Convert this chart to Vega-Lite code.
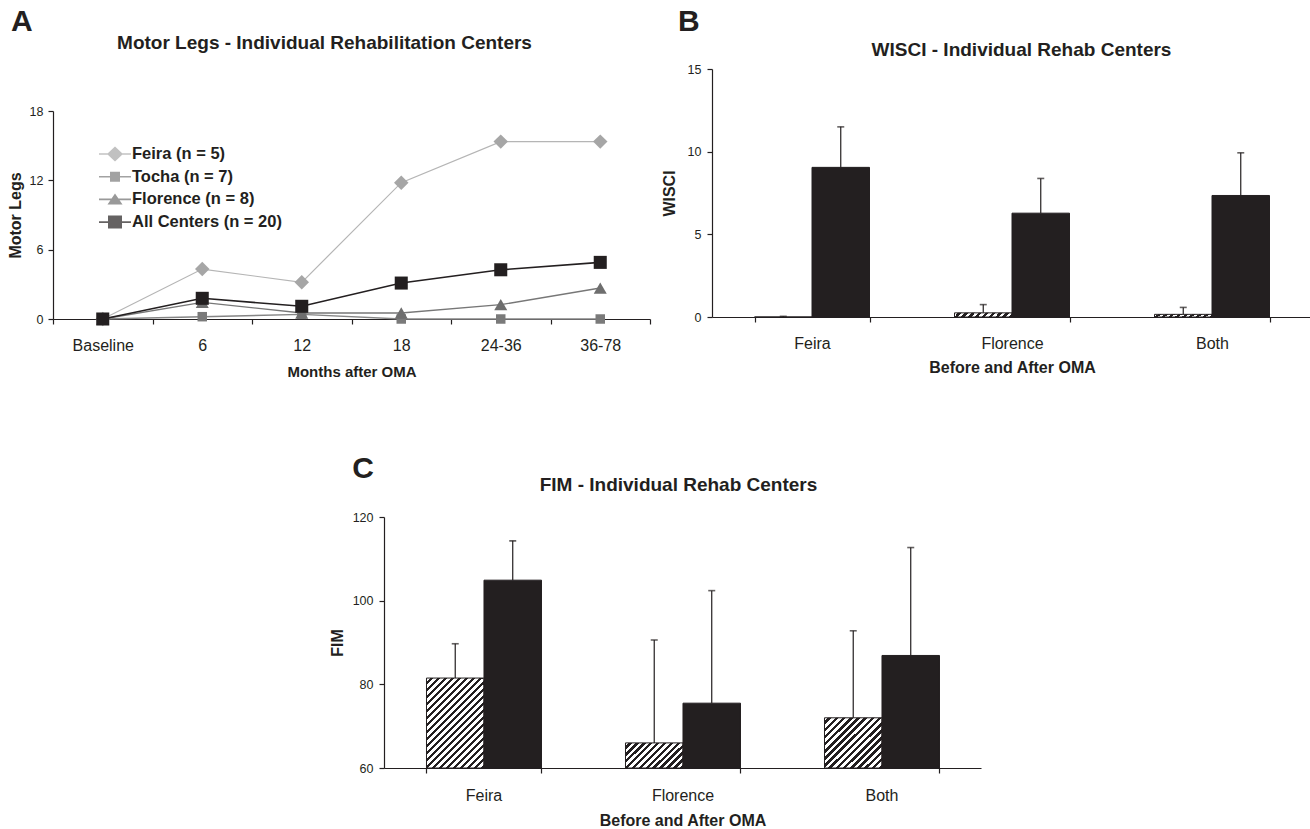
{
  "$schema": "https://vega.github.io/schema/vega-lite/v6.json",
  "background": "white",
  "padding": {"left": 7, "top": 7, "right": 0, "bottom": 0},
  "config": {
    "font": "Liberation Sans",
    "view": {"stroke": null},
    "axis": {
      "grid": false,
      "domainColor": "#231f20",
      "tickColor": "#231f20",
      "labelColor": "#231f20",
      "titleColor": "#231f20",
      "titleFontWeight": "bold",
      "domainWidth": 1.2,
      "tickWidth": 1.2,
      "tickSize": 5
    },
    "title": {"color": "#231f20", "fontWeight": "bold"}
  },
  "spacing": 75,
  "center": true,
  "vconcat": [
    {
      "spacing": 10,
      "hconcat": [
        {
          "title": {"text": "A", "anchor": "start", "fontSize": 30, "offset": -4, "dx": 4},
          "width": 597,
          "height": 250,
          "data": {
            "values": [
              {"series": "Feira (n = 5)", "month": "Baseline", "value": 0},
              {"series": "Feira (n = 5)", "month": "6", "value": 4.32},
              {"series": "Feira (n = 5)", "month": "12", "value": 3.17},
              {"series": "Feira (n = 5)", "month": "18", "value": 11.8},
              {"series": "Feira (n = 5)", "month": "24-36", "value": 15.35},
              {"series": "Feira (n = 5)", "month": "36-78", "value": 15.35},
              {"series": "Tocha (n = 7)", "month": "Baseline", "value": 0},
              {"series": "Tocha (n = 7)", "month": "6", "value": 0.2},
              {"series": "Tocha (n = 7)", "month": "12", "value": 0.4},
              {"series": "Tocha (n = 7)", "month": "18", "value": 0},
              {"series": "Tocha (n = 7)", "month": "24-36", "value": 0},
              {"series": "Tocha (n = 7)", "month": "36-78", "value": 0},
              {"series": "Florence (n = 8)", "month": "Baseline", "value": 0},
              {"series": "Florence (n = 8)", "month": "6", "value": 1.44},
              {"series": "Florence (n = 8)", "month": "12", "value": 0.52},
              {"series": "Florence (n = 8)", "month": "18", "value": 0.52},
              {"series": "Florence (n = 8)", "month": "24-36", "value": 1.24},
              {"series": "Florence (n = 8)", "month": "36-78", "value": 2.68},
              {"series": "All Centers (n = 20)", "month": "Baseline", "value": 0},
              {"series": "All Centers (n = 20)", "month": "6", "value": 1.79},
              {"series": "All Centers (n = 20)", "month": "12", "value": 1.1},
              {"series": "All Centers (n = 20)", "month": "18", "value": 3.11},
              {"series": "All Centers (n = 20)", "month": "24-36", "value": 4.26},
              {"series": "All Centers (n = 20)", "month": "36-78", "value": 4.9}
            ]
          },
          "encoding": {
            "x": {
              "field": "month",
              "type": "ordinal",
              "sort": ["Baseline", "6", "12", "18", "24-36", "36-78"],
              "scale": {"type": "band", "paddingInner": 0, "paddingOuter": 0},
              "axis": null
            },
            "y": {
              "field": "value",
              "type": "quantitative",
              "scale": {"domain": [0, 18], "nice": false, "range": [250, 42]},
              "axis": {"values": [0, 6, 12, 18], "title": "Motor Legs", "labelFontSize": 12.5, "labelPadding": 5, "titleFontSize": 16, "titlePadding": 6}
            }
          },
          "layer": [
            {
              "transform": [{"filter": "datum.series === 'Feira (n = 5)'"}],
              "mark": {"type": "line", "color": "#b5b5b5", "strokeWidth": 1.2, "point": {"shape": "diamond", "size": 210, "filled": true, "color": "#a6a6a6"}},
              "encoding": {
                "x": {
                  "field": "month",
                  "type": "ordinal",
                  "sort": ["Baseline", "6", "12", "18", "24-36", "36-78"],
                  "axis": {"orient": "bottom", "title": "Months after OMA", "labelAngle": 0, "tickBand": "extent", "labelFontSize": 16, "labelPadding": 13, "titleFontSize": 15, "titlePadding": 11}
                }
              }
            },
            {
              "transform": [{"filter": "datum.series === 'Tocha (n = 7)'"}],
              "mark": {"type": "line", "color": "#858585", "strokeWidth": 1.4, "point": {"shape": "square", "size": 90, "filled": true, "color": "#7a7a7a"}}
            },
            {
              "transform": [{"filter": "datum.series === 'Florence (n = 8)'"}],
              "mark": {"type": "line", "color": "#777777", "strokeWidth": 1.4, "point": {"shape": "triangle-up", "size": 170, "filled": true, "color": "#6e6e6e"}}
            },
            {
              "transform": [{"filter": "datum.series === 'All Centers (n = 20)'"}],
              "mark": {"type": "line", "color": "#231f20", "strokeWidth": 1.6, "point": {"shape": "square", "size": 170, "filled": true, "color": "#231f20"}}
            },
            {
              "transform": [{"filter": "false"}],
              "mark": {"type": "point", "filled": true},
              "encoding": {
                "x": {
                  "field": "month",
                  "type": "ordinal",
                  "sort": ["Baseline", "6", "12", "18", "24-36", "36-78"],
                  "axis": {"orient": "top", "title": "Motor Legs - Individual Rehabilitation Centers", "labels": false, "ticks": false, "domain": false, "titleFontSize": 19, "titlePadding": 17, "titleX": 271, "titleAlign": "center"}
                },
                "color": {
                  "field": "series",
                  "type": "nominal",
                  "scale": {"domain": ["Feira (n = 5)", "Tocha (n = 7)", "Florence (n = 8)", "All Centers (n = 20)"], "range": ["#a6a6a6", "#7a7a7a", "#6e6e6e", "#231f20"]},
                  "legend": {"title": null, "orient": "none", "legendX": 52, "legendY": 75, "padding": 0, "symbolSize": 400, "symbolStrokeWidth": 0, "labelFontSize": 16.5, "labelFontWeight": "bold", "labelColor": "#231f20", "labelOffset": 7, "rowPadding": 3.7}
                },
                "shape": {
                  "field": "series",
                  "type": "nominal",
                  "scale": {
                    "domain": ["Feira (n = 5)", "Tocha (n = 7)", "Florence (n = 8)", "All Centers (n = 20)"],
                    "range": [
                      "M-1.6,-0.07H1.6V0.07H-1.6Z M0,-0.75L0.8,0L0,0.75L-0.8,0Z",
                      "M-1.6,-0.08H1.6V0.08H-1.6Z M-0.5,-0.5H0.5V0.5H-0.5Z",
                      "M-1.6,-0.08H1.6V0.08H-1.6Z M0,-0.6L0.75,0.5H-0.75Z",
                      "M-1.6,-0.09H1.6V0.09H-1.6Z M-0.7,-0.65H0.7V0.65H-0.7Z"
                    ]
                  },
                  "legend": {"title": null, "orient": "none", "legendX": 52, "legendY": 75, "padding": 0, "symbolSize": 400, "symbolStrokeWidth": 0, "labelFontSize": 16.5, "labelFontWeight": "bold", "labelColor": "#231f20", "labelOffset": 7, "rowPadding": 3.7}
                }
              }
            }
          ]
        },
        {
          "title": {"text": "B", "anchor": "start", "fontSize": 30, "offset": 3, "dx": 17},
          "width": 600,
          "height": 248,
          "data": {
            "values": [
              {"center": "Feira", "period": "Before", "value": 0, "upper": 0.04},
              {"center": "Feira", "period": "After", "value": 9.05, "upper": 11.5},
              {"center": "Florence", "period": "Before", "value": 0.25, "upper": 0.75},
              {"center": "Florence", "period": "After", "value": 6.28, "upper": 8.38},
              {"center": "Both", "period": "Before", "value": 0.16, "upper": 0.58},
              {"center": "Both", "period": "After", "value": 7.35, "upper": 9.93}
            ]
          },
          "encoding": {
            "x": {
              "field": "center",
              "type": "nominal",
              "sort": ["Feira", "Florence", "Both"],
              "scale": {"paddingInner": 0.425, "paddingOuter": 0.2125},
              "axis": null
            },
            "xOffset": {"field": "period", "type": "nominal", "sort": ["Before", "After"], "scale": {"paddingInner": 0, "paddingOuter": 0}}
          },
          "layer": [
            {
              "transform": [{"filter": "datum.period === 'Before'"}],
              "mark": {
                "type": "bar", "stroke": "#231f20", "strokeWidth": 1,
                "fill": {"gradient": "linear", "x1": 0, "y1": 0, "x2": 1.066, "y2": 0.07, "stops": [
                  {"offset": 0, "color": "#ffffff"}, {"offset": 0.0556, "color": "#ffffff"}, {"offset": 0.0556, "color": "#231f20"}, {"offset": 0.1111, "color": "#231f20"},
                  {"offset": 0.1111, "color": "#ffffff"}, {"offset": 0.1667, "color": "#ffffff"}, {"offset": 0.1667, "color": "#231f20"}, {"offset": 0.2222, "color": "#231f20"},
                  {"offset": 0.2222, "color": "#ffffff"}, {"offset": 0.2778, "color": "#ffffff"}, {"offset": 0.2778, "color": "#231f20"}, {"offset": 0.3333, "color": "#231f20"},
                  {"offset": 0.3333, "color": "#ffffff"}, {"offset": 0.3889, "color": "#ffffff"}, {"offset": 0.3889, "color": "#231f20"}, {"offset": 0.4444, "color": "#231f20"},
                  {"offset": 0.4444, "color": "#ffffff"}, {"offset": 0.5, "color": "#ffffff"}, {"offset": 0.5, "color": "#231f20"}, {"offset": 0.5556, "color": "#231f20"},
                  {"offset": 0.5556, "color": "#ffffff"}, {"offset": 0.6111, "color": "#ffffff"}, {"offset": 0.6111, "color": "#231f20"}, {"offset": 0.6667, "color": "#231f20"},
                  {"offset": 0.6667, "color": "#ffffff"}, {"offset": 0.7222, "color": "#ffffff"}, {"offset": 0.7222, "color": "#231f20"}, {"offset": 0.7778, "color": "#231f20"},
                  {"offset": 0.7778, "color": "#ffffff"}, {"offset": 0.8333, "color": "#ffffff"}, {"offset": 0.8333, "color": "#231f20"}, {"offset": 0.8889, "color": "#231f20"},
                  {"offset": 0.8889, "color": "#ffffff"}, {"offset": 0.9444, "color": "#ffffff"}, {"offset": 0.9444, "color": "#231f20"}, {"offset": 1, "color": "#231f20"}
                ]}
              },
              "encoding": {
                "y": {
                  "field": "value",
                  "type": "quantitative",
                  "scale": {"domain": [0, 15], "nice": false},
                  "axis": {"values": [0, 5, 10, 15], "title": "WISCI", "labelFontSize": 12.5, "labelPadding": 6, "titleFontSize": 16, "titlePadding": 10}
                }
              }
            },
            {
              "transform": [{"filter": "datum.period === 'After'"}],
              "mark": {"type": "bar", "fill": "#231f20", "stroke": "#231f20", "strokeWidth": 1},
              "encoding": {
                "x": {
                  "field": "center",
                  "type": "nominal",
                  "sort": ["Feira", "Florence", "Both"],
                  "axis": {"orient": "bottom", "title": "Before and After OMA", "labelAngle": 0, "tickBand": "extent", "labelFontSize": 16, "labelPadding": 13, "titleFontSize": 16, "titlePadding": 8}
                },
                "y": {"field": "value", "type": "quantitative"}
              }
            },
            {
              "mark": {"type": "rule", "color": "#231f20", "strokeWidth": 1.2},
              "encoding": {"y": {"field": "value", "type": "quantitative"}, "y2": {"field": "upper"}}
            },
            {
              "mark": {"type": "tick", "color": "#231f20", "thickness": 1.6, "size": 7},
              "encoding": {
                "x": {
                  "field": "center",
                  "type": "nominal",
                  "sort": ["Feira", "Florence", "Both"],
                  "axis": {"orient": "top", "title": "WISCI - Individual Rehab Centers", "labels": false, "ticks": false, "domain": false, "titleFontSize": 19, "titlePadding": 10, "titleX": 309, "titleAlign": "center"}
                },
                "y": {"field": "upper", "type": "quantitative"}
              }
            }
          ]
        }
      ]
    },
    {
      "title": {"text": "C", "anchor": "start", "fontSize": 30, "offset": -9, "dx": 23},
      "width": 597,
      "height": 251,
      "data": {
        "values": [
          {"center": "Feira", "period": "Before", "value": 81.5, "upper": 89.7},
          {"center": "Feira", "period": "After", "value": 104.9, "upper": 114.3},
          {"center": "Florence", "period": "Before", "value": 66, "upper": 90.6},
          {"center": "Florence", "period": "After", "value": 75.5, "upper": 102.4},
          {"center": "Both", "period": "Before", "value": 72, "upper": 92.8},
          {"center": "Both", "period": "After", "value": 86.9, "upper": 112.7}
        ]
      },
      "encoding": {
        "x": {
          "field": "center",
          "type": "nominal",
          "sort": ["Feira", "Florence", "Both"],
          "scale": {"paddingInner": 0.427, "paddingOuter": 0.2135},
          "axis": null
        },
        "xOffset": {"field": "period", "type": "nominal", "sort": ["Before", "After"], "scale": {"paddingInner": 0, "paddingOuter": 0}}
      },
      "layer": [
        {
          "transform": [{"filter": "datum.period === 'Before' && datum.center === 'Feira'"}],
          "mark": {
            "type": "bar", "stroke": "#231f20", "strokeWidth": 1,
            "fill": {"gradient": "linear", "x1": 0, "y1": 0, "x2": 0.739, "y2": 1.1655, "stops": [
              {"offset": 0, "color": "#ffffff"}, {"offset": 0.0238, "color": "#ffffff"}, {"offset": 0.0238, "color": "#231f20"}, {"offset": 0.0476, "color": "#231f20"},
              {"offset": 0.0476, "color": "#ffffff"}, {"offset": 0.0714, "color": "#ffffff"}, {"offset": 0.0714, "color": "#231f20"}, {"offset": 0.0952, "color": "#231f20"},
              {"offset": 0.0952, "color": "#ffffff"}, {"offset": 0.119, "color": "#ffffff"}, {"offset": 0.119, "color": "#231f20"}, {"offset": 0.1429, "color": "#231f20"},
              {"offset": 0.1429, "color": "#ffffff"}, {"offset": 0.1667, "color": "#ffffff"}, {"offset": 0.1667, "color": "#231f20"}, {"offset": 0.1905, "color": "#231f20"},
              {"offset": 0.1905, "color": "#ffffff"}, {"offset": 0.2143, "color": "#ffffff"}, {"offset": 0.2143, "color": "#231f20"}, {"offset": 0.2381, "color": "#231f20"},
              {"offset": 0.2381, "color": "#ffffff"}, {"offset": 0.2619, "color": "#ffffff"}, {"offset": 0.2619, "color": "#231f20"}, {"offset": 0.2857, "color": "#231f20"},
              {"offset": 0.2857, "color": "#ffffff"}, {"offset": 0.3095, "color": "#ffffff"}, {"offset": 0.3095, "color": "#231f20"}, {"offset": 0.3333, "color": "#231f20"},
              {"offset": 0.3333, "color": "#ffffff"}, {"offset": 0.3571, "color": "#ffffff"}, {"offset": 0.3571, "color": "#231f20"}, {"offset": 0.381, "color": "#231f20"},
              {"offset": 0.381, "color": "#ffffff"}, {"offset": 0.4048, "color": "#ffffff"}, {"offset": 0.4048, "color": "#231f20"}, {"offset": 0.4286, "color": "#231f20"},
              {"offset": 0.4286, "color": "#ffffff"}, {"offset": 0.4524, "color": "#ffffff"}, {"offset": 0.4524, "color": "#231f20"}, {"offset": 0.4762, "color": "#231f20"},
              {"offset": 0.4762, "color": "#ffffff"}, {"offset": 0.5, "color": "#ffffff"}, {"offset": 0.5, "color": "#231f20"}, {"offset": 0.5238, "color": "#231f20"},
              {"offset": 0.5238, "color": "#ffffff"}, {"offset": 0.5476, "color": "#ffffff"}, {"offset": 0.5476, "color": "#231f20"}, {"offset": 0.5714, "color": "#231f20"},
              {"offset": 0.5714, "color": "#ffffff"}, {"offset": 0.5952, "color": "#ffffff"}, {"offset": 0.5952, "color": "#231f20"}, {"offset": 0.619, "color": "#231f20"},
              {"offset": 0.619, "color": "#ffffff"}, {"offset": 0.6429, "color": "#ffffff"}, {"offset": 0.6429, "color": "#231f20"}, {"offset": 0.6667, "color": "#231f20"},
              {"offset": 0.6667, "color": "#ffffff"}, {"offset": 0.6905, "color": "#ffffff"}, {"offset": 0.6905, "color": "#231f20"}, {"offset": 0.7143, "color": "#231f20"},
              {"offset": 0.7143, "color": "#ffffff"}, {"offset": 0.7381, "color": "#ffffff"}, {"offset": 0.7381, "color": "#231f20"}, {"offset": 0.7619, "color": "#231f20"},
              {"offset": 0.7619, "color": "#ffffff"}, {"offset": 0.7857, "color": "#ffffff"}, {"offset": 0.7857, "color": "#231f20"}, {"offset": 0.8095, "color": "#231f20"},
              {"offset": 0.8095, "color": "#ffffff"}, {"offset": 0.8333, "color": "#ffffff"}, {"offset": 0.8333, "color": "#231f20"}, {"offset": 0.8571, "color": "#231f20"},
              {"offset": 0.8571, "color": "#ffffff"}, {"offset": 0.881, "color": "#ffffff"}, {"offset": 0.881, "color": "#231f20"}, {"offset": 0.9048, "color": "#231f20"},
              {"offset": 0.9048, "color": "#ffffff"}, {"offset": 0.9286, "color": "#ffffff"}, {"offset": 0.9286, "color": "#231f20"}, {"offset": 0.9524, "color": "#231f20"},
              {"offset": 0.9524, "color": "#ffffff"}, {"offset": 0.9762, "color": "#ffffff"}, {"offset": 0.9762, "color": "#231f20"}, {"offset": 1, "color": "#231f20"}
            ]}
          },
          "encoding": {
            "y": {
              "field": "value",
              "type": "quantitative",
              "scale": {"domain": [60, 120], "zero": false, "nice": false},
              "axis": {"values": [60, 80, 100, 120], "title": "FIM", "labelFontSize": 12.5, "labelPadding": 6, "titleFontSize": 16, "titlePadding": 7}
            },
            "y2": {"datum": 60}
          }
        },
        {
          "transform": [{"filter": "datum.period === 'Before' && datum.center === 'Florence'"}],
          "mark": {
            "type": "bar", "stroke": "#231f20", "strokeWidth": 1,
            "fill": {"gradient": "linear", "x1": 0, "y1": 0, "x2": 1.2065, "y2": 0.531, "stops": [
              {"offset": 0, "color": "#ffffff"}, {"offset": 0.0417, "color": "#ffffff"}, {"offset": 0.0417, "color": "#231f20"}, {"offset": 0.0833, "color": "#231f20"},
              {"offset": 0.0833, "color": "#ffffff"}, {"offset": 0.125, "color": "#ffffff"}, {"offset": 0.125, "color": "#231f20"}, {"offset": 0.1667, "color": "#231f20"},
              {"offset": 0.1667, "color": "#ffffff"}, {"offset": 0.2083, "color": "#ffffff"}, {"offset": 0.2083, "color": "#231f20"}, {"offset": 0.25, "color": "#231f20"},
              {"offset": 0.25, "color": "#ffffff"}, {"offset": 0.2917, "color": "#ffffff"}, {"offset": 0.2917, "color": "#231f20"}, {"offset": 0.3333, "color": "#231f20"},
              {"offset": 0.3333, "color": "#ffffff"}, {"offset": 0.375, "color": "#ffffff"}, {"offset": 0.375, "color": "#231f20"}, {"offset": 0.4167, "color": "#231f20"},
              {"offset": 0.4167, "color": "#ffffff"}, {"offset": 0.4583, "color": "#ffffff"}, {"offset": 0.4583, "color": "#231f20"}, {"offset": 0.5, "color": "#231f20"},
              {"offset": 0.5, "color": "#ffffff"}, {"offset": 0.5417, "color": "#ffffff"}, {"offset": 0.5417, "color": "#231f20"}, {"offset": 0.5833, "color": "#231f20"},
              {"offset": 0.5833, "color": "#ffffff"}, {"offset": 0.625, "color": "#ffffff"}, {"offset": 0.625, "color": "#231f20"}, {"offset": 0.6667, "color": "#231f20"},
              {"offset": 0.6667, "color": "#ffffff"}, {"offset": 0.7083, "color": "#ffffff"}, {"offset": 0.7083, "color": "#231f20"}, {"offset": 0.75, "color": "#231f20"},
              {"offset": 0.75, "color": "#ffffff"}, {"offset": 0.7917, "color": "#ffffff"}, {"offset": 0.7917, "color": "#231f20"}, {"offset": 0.8333, "color": "#231f20"},
              {"offset": 0.8333, "color": "#ffffff"}, {"offset": 0.875, "color": "#ffffff"}, {"offset": 0.875, "color": "#231f20"}, {"offset": 0.9167, "color": "#231f20"},
              {"offset": 0.9167, "color": "#ffffff"}, {"offset": 0.9583, "color": "#ffffff"}, {"offset": 0.9583, "color": "#231f20"}, {"offset": 1, "color": "#231f20"}
            ]}
          },
          "encoding": {"y": {"field": "value", "type": "quantitative"}, "y2": {"datum": 60}}
        },
        {
          "transform": [{"filter": "datum.period === 'Before' && datum.center === 'Both'"}],
          "mark": {
            "type": "bar", "stroke": "#231f20", "strokeWidth": 1,
            "fill": {"gradient": "linear", "x1": 0, "y1": 0, "x2": 1.0592, "y2": 0.9328, "stops": [
              {"offset": 0, "color": "#ffffff"}, {"offset": 0.0333, "color": "#ffffff"}, {"offset": 0.0333, "color": "#231f20"}, {"offset": 0.0667, "color": "#231f20"},
              {"offset": 0.0667, "color": "#ffffff"}, {"offset": 0.1, "color": "#ffffff"}, {"offset": 0.1, "color": "#231f20"}, {"offset": 0.1333, "color": "#231f20"},
              {"offset": 0.1333, "color": "#ffffff"}, {"offset": 0.1667, "color": "#ffffff"}, {"offset": 0.1667, "color": "#231f20"}, {"offset": 0.2, "color": "#231f20"},
              {"offset": 0.2, "color": "#ffffff"}, {"offset": 0.2333, "color": "#ffffff"}, {"offset": 0.2333, "color": "#231f20"}, {"offset": 0.2667, "color": "#231f20"},
              {"offset": 0.2667, "color": "#ffffff"}, {"offset": 0.3, "color": "#ffffff"}, {"offset": 0.3, "color": "#231f20"}, {"offset": 0.3333, "color": "#231f20"},
              {"offset": 0.3333, "color": "#ffffff"}, {"offset": 0.3667, "color": "#ffffff"}, {"offset": 0.3667, "color": "#231f20"}, {"offset": 0.4, "color": "#231f20"},
              {"offset": 0.4, "color": "#ffffff"}, {"offset": 0.4333, "color": "#ffffff"}, {"offset": 0.4333, "color": "#231f20"}, {"offset": 0.4667, "color": "#231f20"},
              {"offset": 0.4667, "color": "#ffffff"}, {"offset": 0.5, "color": "#ffffff"}, {"offset": 0.5, "color": "#231f20"}, {"offset": 0.5333, "color": "#231f20"},
              {"offset": 0.5333, "color": "#ffffff"}, {"offset": 0.5667, "color": "#ffffff"}, {"offset": 0.5667, "color": "#231f20"}, {"offset": 0.6, "color": "#231f20"},
              {"offset": 0.6, "color": "#ffffff"}, {"offset": 0.6333, "color": "#ffffff"}, {"offset": 0.6333, "color": "#231f20"}, {"offset": 0.6667, "color": "#231f20"},
              {"offset": 0.6667, "color": "#ffffff"}, {"offset": 0.7, "color": "#ffffff"}, {"offset": 0.7, "color": "#231f20"}, {"offset": 0.7333, "color": "#231f20"},
              {"offset": 0.7333, "color": "#ffffff"}, {"offset": 0.7667, "color": "#ffffff"}, {"offset": 0.7667, "color": "#231f20"}, {"offset": 0.8, "color": "#231f20"},
              {"offset": 0.8, "color": "#ffffff"}, {"offset": 0.8333, "color": "#ffffff"}, {"offset": 0.8333, "color": "#231f20"}, {"offset": 0.8667, "color": "#231f20"},
              {"offset": 0.8667, "color": "#ffffff"}, {"offset": 0.9, "color": "#ffffff"}, {"offset": 0.9, "color": "#231f20"}, {"offset": 0.9333, "color": "#231f20"},
              {"offset": 0.9333, "color": "#ffffff"}, {"offset": 0.9667, "color": "#ffffff"}, {"offset": 0.9667, "color": "#231f20"}, {"offset": 1, "color": "#231f20"}
            ]}
          },
          "encoding": {"y": {"field": "value", "type": "quantitative"}, "y2": {"datum": 60}}
        },
        {
          "transform": [{"filter": "datum.period === 'After'"}],
          "mark": {"type": "bar", "fill": "#231f20", "stroke": "#231f20", "strokeWidth": 1},
          "encoding": {
            "x": {
              "field": "center",
              "type": "nominal",
              "sort": ["Feira", "Florence", "Both"],
              "axis": {"orient": "bottom", "title": "Before and After OMA", "labelAngle": 0, "tickBand": "extent", "labelFontSize": 16, "labelPadding": 14, "titleFontSize": 16, "titlePadding": 9}
            },
            "y": {"field": "value", "type": "quantitative"},
            "y2": {"datum": 60}
          }
        },
        {
          "mark": {"type": "rule", "color": "#231f20", "strokeWidth": 1.2},
          "encoding": {"y": {"field": "value", "type": "quantitative"}, "y2": {"field": "upper"}}
        },
        {
          "mark": {"type": "tick", "color": "#231f20", "thickness": 1.6, "size": 7},
          "encoding": {
            "x": {
              "field": "center",
              "type": "nominal",
              "sort": ["Feira", "Florence", "Both"],
              "axis": {"orient": "top", "title": "FIM - Individual Rehab Centers", "labels": false, "ticks": false, "domain": false, "titleFontSize": 19, "titlePadding": 23, "titleX": 294, "titleAlign": "center"}
            },
            "y": {"field": "upper", "type": "quantitative"}
          }
        }
      ]
    }
  ]
}
